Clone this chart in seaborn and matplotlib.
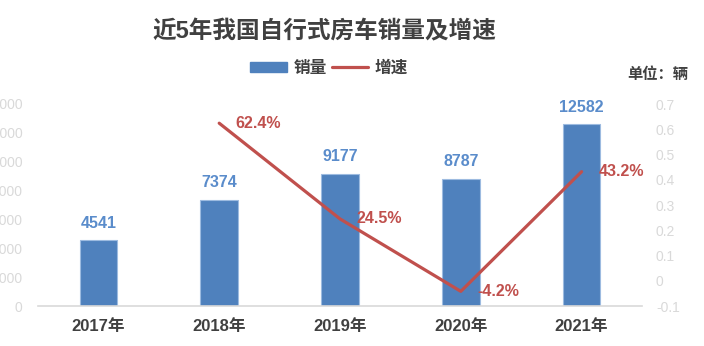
import numpy as np
import pandas as pd
import matplotlib
matplotlib.use("Agg")
import matplotlib.pyplot as plt
import seaborn as sns
from matplotlib.patches import Patch
from matplotlib.lines import Line2D

years = ["2017年", "2018年", "2019年", "2020年", "2021年"]
sales = [4541, 7374, 9177, 8787, 12582]
growth = [None, 0.624, 0.245, -0.042, 0.432]
growth_labels = ["", "62.4%", "24.5%", "-4.2%", "43.2%"]
left_ticks = [0, 2000, 4000, 6000, 8000, 10000, 12000, 14000]
right_ticks = [-0.1, 0, 0.1, 0.2, 0.3, 0.4, 0.5, 0.6, 0.7]

sns.set_theme(style="white")
FAM = ["Liberation Sans", "Noto Sans CJK SC", "DejaVu Sans"]
plt.rcParams["font.family"] = FAM

BLUE = "#4f81bd"
RED = "#c0504d"
DARK = "#404040"
LIGHT = "#d9d9d9"

fig = plt.figure(figsize=(7.04, 3.46), dpi=100)
ax = fig.add_axes([38/704, 1-306/346, (642-38)/704, (306-104)/346])

df = pd.DataFrame({"year": years, "sales": sales})
sns.barplot(data=df, x="year", y="sales", ax=ax, color=BLUE, width=0.31,
            saturation=1, edgecolor="#9dbbe0", linewidth=0.8)
ax.set_xlim(-0.5, len(years) - 0.5)
ax.set_ylim(left_ticks[0], left_ticks[-1])
ax.set_yticks(left_ticks)
ax.set_yticklabels([str(t) for t in left_ticks])
ax.set_xlabel("")
ax.set_ylabel("")
ax.tick_params(axis="y", length=0, pad=11, labelsize=10, labelcolor=LIGHT)
ax.tick_params(axis="x", length=0, pad=9, labelsize=12, labelcolor=DARK)
for lab in ax.get_xticklabels():
    lab.set_fontweight("bold")
for s in ["top", "right", "left"]:
    ax.spines[s].set_visible(False)
ax.spines["bottom"].set_color(LIGHT)
ax.spines["bottom"].set_linewidth(1.2)

for i, v in enumerate(sales):
    ax.annotate(str(v), (i, v), xytext=(0, 12.5), textcoords="offset points",
                ha="center", va="center", color="#5a8ccb", fontsize=11.5,
                fontweight="bold")

ax2 = ax.twinx()
gx = [i for i, g in enumerate(growth) if g is not None]
gy = [g for g in growth if g is not None]
sns.lineplot(x=gx, y=gy, ax=ax2, color=RED, linewidth=2.3)
ax2.set_ylim(right_ticks[0], right_ticks[-1])
ax2.set_yticks(right_ticks)
ax2.set_yticklabels([f"{t:g}" for t in right_ticks])
ax2.tick_params(axis="y", length=0, pad=10, labelsize=10, labelcolor=LIGHT)
for s in ["top", "right", "left", "bottom"]:
    ax2.spines[s].set_visible(False)
ax2.set_ylabel("")
for x, y, lab in zip(gx, gy, [l for l in growth_labels if l]):
    ax2.annotate(lab, (x, y), xytext=(12, 0), textcoords="offset points",
                 ha="left", va="center", color=RED, fontsize=11.5,
                 fontweight="bold")

fig.text(324/704, 1-32/346, "近5年我国自行式房车销量及增速", ha="center", va="center",
         fontsize=17, fontweight="bold", color=DARK, family=FAM)

handles = [Patch(facecolor=BLUE, edgecolor=BLUE),
           Line2D([0], [0], color=RED, linewidth=2.3)]
fig.legend(handles, ["销量", "增速"], loc="center", bbox_to_anchor=(329/704, 1-68/346),
           ncol=2, frameon=False, prop={"family": FAM, "weight": "bold", "size": 12},
           labelcolor=DARK, handlelength=2.2, handleheight=0.6, columnspacing=0.3,
           handletextpad=0.4)

fig.text(688/704, 1-75/346, "单位：辆", ha="right", va="center", fontsize=11,
         fontweight="bold", color=DARK, family=FAM)

fig.savefig("out.png", dpi=100)
